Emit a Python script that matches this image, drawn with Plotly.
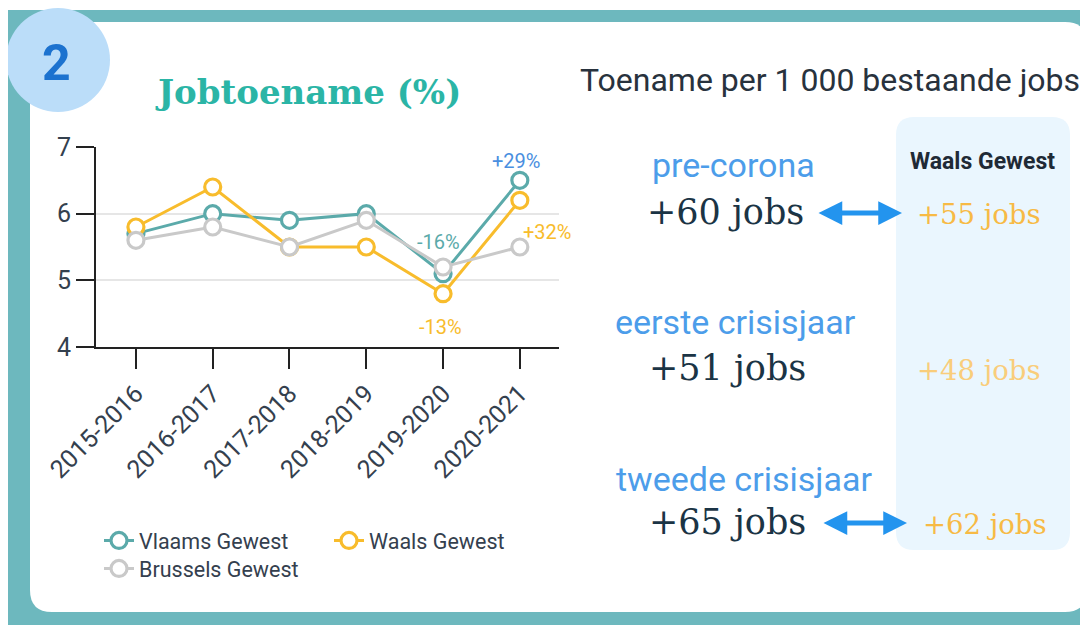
import plotly.graph_objects as go

# ---------------- data ----------------
periods = ["2015-2016", "2016-2017", "2017-2018", "2018-2019", "2019-2020", "2020-2021"]
vlaams = [5.7, 6.0, 5.9, 6.0, 5.1, 6.5]
waals = [5.8, 6.4, 5.5, 5.5, 4.8, 6.2]
brussels = [5.6, 5.8, 5.5, 5.9, 5.2, 5.5]
y_ticks = [4, 5, 6, 7]

change_labels = ["-16%", "+29%", "-13%", "+32%"]

phases = ["pre-corona", "eerste crisisjaar", "tweede crisisjaar"]
jobs_main = [60, 51, 65]
jobs_waals = [55, 48, 62]

# ---------------- helpers ----------------
W, H = 1088, 625
OFF = 8  # page offset of the plot div (body margin)
def px(x):
    return (x - OFF) / W
def py(y):
    return 1 - (y - OFF) / H

C_VL = "#5BAAAA"
C_WA = "#F8BC2C"
C_BR = "#C9C9C9"
TXT = "#34404e"

fig = go.Figure()
for name, vals, col, leg in [("Vlaams Gewest", vlaams, C_VL, "legend"),
                             ("Waals Gewest", waals, C_WA, "legend"),
                             ("Brussels Gewest", brussels, C_BR, "legend2")]:
    fig.add_trace(go.Scatter(
        x=periods, y=vals, name=name, mode="lines+markers",
        line=dict(color=col, width=3),
        marker=dict(symbol="circle", size=16, color="white",
                    line=dict(color=col, width=3.2)),
        legend=leg, hoverinfo="skip"))

shapes = []
# teal frame
shapes.append(dict(type="rect", xref="paper", yref="paper", x0=px(8), x1=px(1100),
                   y0=py(640), y1=py(10), fillcolor="#6DB8BE", line_width=0, layer="below"))
# white card with rounded corners
r = 22
x0c, x1c, y0c, y1c = 30, 1087, 22, 612
path = (f"M {px(x0c+r)},{py(y0c)} L {px(x1c-r)},{py(y0c)} "
        f"Q {px(x1c)},{py(y0c)} {px(x1c)},{py(y0c+r)} "
        f"L {px(x1c)},{py(y1c-r)} Q {px(x1c)},{py(y1c)} {px(x1c-r)},{py(y1c)} "
        f"L {px(x0c+r)},{py(y1c)} Q {px(x0c)},{py(y1c)} {px(x0c)},{py(y1c-r)} "
        f"L {px(x0c)},{py(y0c+r)} Q {px(x0c)},{py(y0c)} {px(x0c+r)},{py(y0c)} Z")
shapes.append(dict(type="path", xref="paper", yref="paper", path=path,
                   fillcolor="white", line_width=0, layer="below"))
# light blue panel
r2 = 18
a0, a1, b0, b1 = 896, 1070, 117, 550
path2 = (f"M {px(a0+r2)},{py(b0)} L {px(a1-r2)},{py(b0)} "
         f"Q {px(a1)},{py(b0)} {px(a1)},{py(b0+r2)} "
         f"L {px(a1)},{py(b1-r2)} Q {px(a1)},{py(b1)} {px(a1-r2)},{py(b1)} "
         f"L {px(a0+r2)},{py(b1)} Q {px(a0)},{py(b1)} {px(a0)},{py(b1-r2)} "
         f"L {px(a0)},{py(b0+r2)} Q {px(a0)},{py(b0)} {px(a0+r2)},{py(b0)} Z")
shapes.append(dict(type="path", xref="paper", yref="paper", path=path2,
                   fillcolor="#EAF6FE", line_width=0, layer="below"))
# number circle
shapes.append(dict(type="circle", xref="paper", yref="paper",
                   x0=px(6), x1=px(110), y0=py(112), y1=py(8),
                   fillcolor="#BBDDF9", line_width=0, layer="below"))

def txt(text, x, y, size, color, family="Roboto", xanchor="center"):
    return dict(text=text, x=px(x), y=py(y), xref="paper", yref="paper",
                xanchor=xanchor, yanchor="middle", showarrow=False,
                font=dict(family=family, size=size, color=color))

ann = []
ann.append(txt("<b>2</b>", 56, 63, 50, "#1C72CF"))
ann.append(txt("<b>Jobtoename (%)</b>", 308, 92, 34, "#2BB5A6", family="DejaVu Serif"))

# change labels on the chart
chg = [(4, vlaams[4], change_labels[0], -5, 32, C_VL),
       (5, vlaams[5], change_labels[1], -4, 19, "#4A8FE0"),
       (4, waals[4], change_labels[2], -3, -33, C_WA),
       (5, waals[5], change_labels[3], 27, -32, C_WA)]
for i, v, t, xs, ys, col in chg:
    ann.append(dict(text=t, x=periods[i], y=v, xref="x", yref="y", showarrow=False,
                    xanchor="center", yanchor="middle",
                    xshift=xs, yshift=ys, font=dict(family="Roboto", size=20, color=col)))

# right side
ann.append(txt("Toename per 1 000 bestaande jobs", 830, 80, 32, "#28323d"))
ann.append(txt("<b>Waals Gewest</b>", 982, 162, 23, "#1f2a36"))

label_y = [165, 322, 479]
label_x = [733, 735, 744]
val_y = [212, 368, 522]
val_x = [725, 727, 727]
wal_x = [915, 915, 921]
wal_col = ["#F7BA45", "#F9CD7B", "#F7BA45"]
arrows = [(817, 902), None, (822, 907)]
for k in range(3):
    ann.append(txt(phases[k], label_x[k], label_y[k], 34, "#4C9DEA"))
    ann.append(txt(f"+{jobs_main[k]} jobs", val_x[k], val_y[k], 35, "#1B3445", family="DejaVu Serif"))
    ann.append(txt(f"+{jobs_waals[k]} jobs", wal_x[k], val_y[k] + 2, 27.5, wal_col[k],
                   family="DejaVu Serif", xanchor="left"))
    if arrows[k]:
        xa, xb = arrows[k]
        ann.append(dict(text="", x=px(xb), y=py(val_y[k] + 1), xref="paper", yref="paper",
                        ax=xa - xb, ay=0, showarrow=True, arrowside="end+start",
                        arrowhead=2, arrowsize=0.95, arrowwidth=5, arrowcolor="#2394EE",
                        standoff=0, startstandoff=0))

fig.update_layout(
    width=W, height=H, margin=dict(l=0, r=0, t=0, b=0, pad=0, autoexpand=False),
    paper_bgcolor="white", plot_bgcolor="rgba(0,0,0,0)",
    shapes=shapes, annotations=ann,
    xaxis=dict(domain=[px(96), px(559)], range=[-0.52, 5.51], showline=True,
               linecolor="#222", linewidth=2, ticks="outside", ticklen=20, tickwidth=2,
               tickcolor="#222", tickangle=-45, showgrid=False, zeroline=False,
               tickfont=dict(family="Roboto", size=25, color=TXT), fixedrange=True),
    yaxis=dict(domain=[py(347), py(147)], range=[4, 7], tickvals=y_ticks, showline=True,
               linecolor="#222", linewidth=2, ticks="outside", ticklen=18, tickwidth=2,
               tickcolor="#222", showgrid=True, gridcolor="#E6E6E6", gridwidth=2,
               zeroline=False, tickfont=dict(family="Roboto", size=25, color=TXT), fixedrange=True),
    legend=dict(orientation="h", x=px(99), y=py(520), xanchor="left", yanchor="top",
                bgcolor="rgba(0,0,0,0)", itemwidth=30, entrywidth=185, entrywidthmode="pixels",
                font=dict(family="Roboto", size=21.5, color=TXT), itemclick=False),
    legend2=dict(orientation="h", x=px(99), y=py(548), xanchor="left", yanchor="top",
                 bgcolor="rgba(0,0,0,0)", itemwidth=30,
                 font=dict(family="Roboto", size=21.5, color=TXT), itemclick=False),
    showlegend=True,
)

fig.write_html("out.html")
